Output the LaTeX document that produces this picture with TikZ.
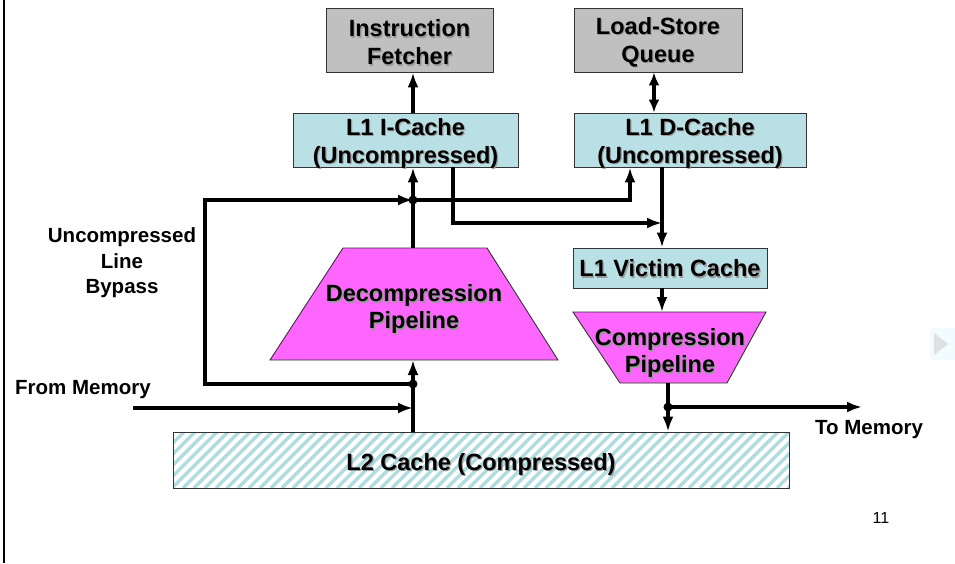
\documentclass[tikz,border=0pt]{standalone}
\usepackage{fontspec}
\setmainfont{Liberation Sans}
\usetikzlibrary{arrows.meta}
\definecolor{boxgray}{RGB}{192,192,192}
\definecolor{cachecyan}{RGB}{185,224,228}
\definecolor{pipemag}{RGB}{255,102,255}
\definecolor{hatchcyan}{RGB}{176,220,224}
\newcommand\shd[1]{\leavevmode\rlap{\kern1.2pt\raisebox{-1.2pt}{\color{black!40}#1}}#1}
\begin{document}
\begin{tikzpicture}[x=1pt,y=-1pt,
  box/.style={draw=black!80, line width=0.9pt, inner sep=0pt},
  btext/.style={align=center, inner sep=0pt, yshift=-4pt,
    font=\bfseries\fontsize{23.5}{28}\selectfont},
  pipe/.style={draw=black!80, line width=0.9pt, fill=pipemag},
  ptext/.style={align=center, inner sep=0pt, font=\bfseries\fontsize{23.5}{27}\selectfont},
  lbl/.style={align=center, inner sep=0pt, font=\bfseries\fontsize{20.5}{25.5}\selectfont},
  arr/.style={line width=3.3pt, -{Latex[length=15pt,width=11pt]}},
  darr/.style={line width=3.3pt, {Latex[length=13pt,width=11pt]}-{Latex[length=13pt,width=11pt]}},
  dot/.style={circle, fill=black, inner sep=0pt, minimum size=9pt},
  hatch/.style={hatchcyan, line width=3.3pt}
]
\useasboundingbox (0,0) rectangle (955,563);
% left border
\draw[line width=2pt] (4,0) -- (4,563);

% hatch of the L2 cache
\begin{scope}
  \clip (173,432) rectangle (789,488);
  \foreach \i in {0,11,...,680} \draw[hatch] (117+\i,488) -- (173+\i,432);
\end{scope}

% boxes
\node[box, fill=boxgray, minimum width=167pt, minimum height=64pt,
  label={[btext, yshift=1pt]center:\shd{Instruction}\\\shd{Fetcher}}] (fetch) at (409.5,40) {};
\node[box, fill=boxgray, minimum width=168pt, minimum height=64pt,
  label={[btext, yshift=1pt]center:\shd{Load-Store}\\\shd{Queue}}] (lsq) at (658,40) {};
\node[box, fill=cachecyan, minimum width=225pt, minimum height=54pt,
  label={[btext]center:\shd{L1 I-Cache}\\\shd{(Uncompressed)}}] (icache) at (405.5,140) {};
\node[box, fill=cachecyan, minimum width=232pt, minimum height=54pt,
  label={[btext]center:\shd{L1 D-Cache}\\\shd{(Uncompressed)}}] (dcache) at (690,140) {};
\node[box, fill=cachecyan, minimum width=194pt, minimum height=40pt,
  label={[btext, yshift=3pt]center:\shd{L1 Victim Cache}}] (victim) at (670,268) {};
\node[box, minimum width=616pt, minimum height=56pt,
  label={[btext, yshift=-1pt]center:\shd{L2 Cache (Compressed)}}] (l2) at (481,460) {};

% pipelines
\draw[pipe] (270,360) -- (343,248) -- (487,248) -- (558,360) -- cycle;
\node[ptext] (decomp) at (414,310) {\shd{Decompression}\\\shd{Pipeline}};
\draw[pipe] (573,312) -- (766,312) -- (727,383) -- (620,383) -- cycle;
\node[ptext] (comp) at (670,354) {\shd{Compression}\\\shd{Pipeline}};

% named points
\coordinate (xa) at (413,0);
\coordinate (xb) at (453,0);
\coordinate (xc) at (630,0);
\coordinate (xd) at (662,0);
\coordinate (xl) at (654,0);
\coordinate (xe) at (668,0);
\coordinate (dtop) at (413,248);
\coordinate (dbot) at (413,360);
\coordinate (ctop) at (662,312);
\coordinate (cbot) at (668,383);
\coordinate (j1) at (413,384);
\coordinate (j2) at (413,200);
\coordinate (j3) at (668,407);
\coordinate (bl) at (205,384);
\coordinate (tl) at (205,200);
\coordinate (br) at (630,200);
\coordinate (vc) at (453,223);
\coordinate (vd) at (662,223);
\coordinate (fm) at (133,408);
\coordinate (fmend) at (413,408);
\coordinate (tm) at (862,407);

% connectors
\draw[arr] (icache.north -| xa) -- (fetch.south -| xa);
\draw[darr] (dcache.north -| xl) -- (lsq.south -| xl);
\draw[arr] (dtop) -- (icache.south -| xa);
\draw[arr] (l2.north -| xa) -- (dbot);
\draw[arr] (j1) -- (bl) -- (tl) -- (j2);
\draw[arr] (j2) -- (br) -- (dcache.south -| xc);
\draw[arr] (fm) -- (fmend);
\draw[arr] (icache.south -| xb) -- (vc) -- (vd);
\draw[arr] (dcache.south -| xd) -- (victim.north -| xd);
\draw[arr] (victim.south -| xd) -- (ctop);
\draw[arr] (cbot) -- (l2.north -| xe);
\draw[arr] (j3) -- (tm);
\node[dot] at (j1) {};
\node[dot] at (j2) {};
\node[dot] at (j3) {};

% labels
\node[lbl] (bypass) at (122,263) {Uncompressed\\Line\\Bypass};
\node[lbl] (from) at (83,390) {From Memory};
\node[lbl] (to) at (869,430) {To Memory};
\node[inner sep=0pt, font=\fontsize{16}{18}\selectfont] (page) at (881,518) {11};

% faint slide icon
\fill[cyan!5] (930,328) rectangle (955,360);
\fill[black!12] (934,333) -- (948,344) -- (934,355) -- cycle;
\end{tikzpicture}
\end{document}
